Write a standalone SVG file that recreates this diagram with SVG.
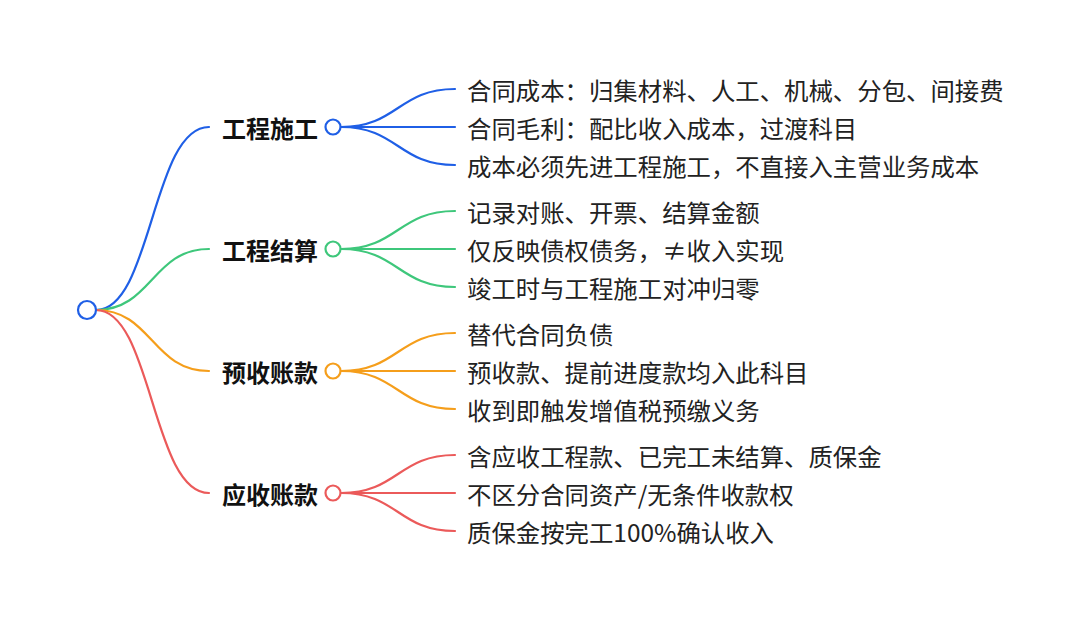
<svg xmlns="http://www.w3.org/2000/svg" width="1080" height="620" viewBox="0 0 1080 620">
<style>
.lk{fill:none;stroke-width:2.2;stroke-linecap:round}
.b{stroke:#1f5fe6}.g{stroke:#3ec77b}.o{stroke:#f59e1b}.r{stroke:#eb5a5a}
.dot{fill:#fff;stroke-width:2.2}
.lbl{font-family:"Noto Sans CJK SC","Noto Sans",sans-serif;font-size:24px;font-weight:700;fill:#111;dominant-baseline:central}
.txt{font-family:"Noto Sans CJK SC","Noto Sans",sans-serif;font-size:24.4px;fill:#222;dominant-baseline:central}
</style>
<rect width="1080" height="620" fill="#fff"/>
<g id="connectors">
<path class="lk b" d="M96 310 C152 310 152 127 209 127"/>
<path class="lk g" d="M96 310 C152 310 152 249 209 249"/>
<path class="lk o" d="M96 310 C152 310 152 371 209 371"/>
<path class="lk r" d="M96 310 C152 310 152 493 209 493"/>
<path class="lk b" d="M341 127 C398 127 398 89 455 89"/>
<path class="lk b" d="M341 127 L455 127"/>
<path class="lk b" d="M341 127 C398 127 398 165 455 165"/>
<path class="lk g" d="M341 249 C398 249 398 211 455 211"/>
<path class="lk g" d="M341 249 L455 249"/>
<path class="lk g" d="M341 249 C398 249 398 287 455 287"/>
<path class="lk o" d="M341 371 C398 371 398 333 455 333"/>
<path class="lk o" d="M341 371 L455 371"/>
<path class="lk o" d="M341 371 C398 371 398 409 455 409"/>
<path class="lk r" d="M341 493 C398 493 398 455 455 455"/>
<path class="lk r" d="M341 493 L455 493"/>
<path class="lk r" d="M341 493 C398 493 398 531 455 531"/>
</g>
<g id="root"><circle class="dot b" cx="87" cy="310" r="9"/></g>
<g id="n1"><text class="lbl" x="222" y="127">工程施工</text><circle class="dot b" cx="333" cy="127" r="7.5"/></g>
<g id="n2"><text class="lbl" x="222" y="249">工程结算</text><circle class="dot g" cx="333" cy="249" r="7.5"/></g>
<g id="n3"><text class="lbl" x="222" y="371">预收账款</text><circle class="dot o" cx="333" cy="371" r="7.5"/></g>
<g id="n4"><text class="lbl" x="222" y="493">应收账款</text><circle class="dot r" cx="333" cy="493" r="7.5"/></g>
<g id="c11"><text class="txt" x="467" y="89">合同成本：归集材料、人工、机械、分包、间接费</text></g>
<g id="c12"><text class="txt" x="467" y="127">合同毛利：配比收入成本，过渡科目</text></g>
<g id="c13"><text class="txt" x="467" y="165">成本必须先进工程施工，不直接入主营业务成本</text></g>
<g id="c21"><text class="txt" x="467" y="211">记录对账、开票、结算金额</text></g>
<g id="c22"><text class="txt" x="467" y="249">仅反映债权债务，≠收入实现</text></g>
<g id="c23"><text class="txt" x="467" y="287">竣工时与工程施工对冲归零</text></g>
<g id="c31"><text class="txt" x="467" y="333">替代合同负债</text></g>
<g id="c32"><text class="txt" x="467" y="371">预收款、提前进度款均入此科目</text></g>
<g id="c33"><text class="txt" x="467" y="409">收到即触发增值税预缴义务</text></g>
<g id="c41"><text class="txt" x="467" y="455">含应收工程款、已完工未结算、质保金</text></g>
<g id="c42"><text class="txt" x="467" y="493">不区分合同资产/无条件收款权</text></g>
<g id="c43"><text class="txt" x="467" y="531">质保金按完工100%确认收入</text></g>
</svg>
